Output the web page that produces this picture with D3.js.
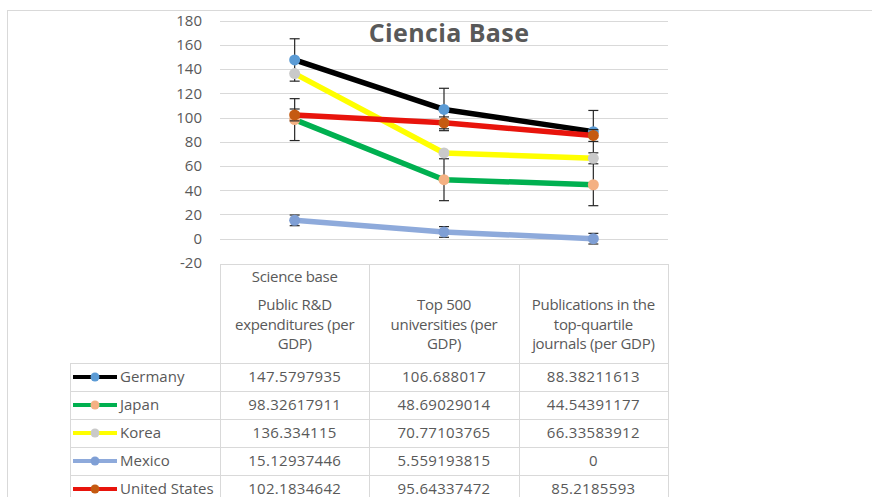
<!DOCTYPE html>
<html>
<head>
<meta charset="utf-8">
<script src="https://cdn.jsdelivr.net/npm/d3@7/dist/d3.min.js"></script>
<style>
  html, body { margin: 0; padding: 0; background: #ffffff; }
  svg { display: block; }
  text { font-family: "Open Sans", "Noto Sans", sans-serif; fill: #595959; }
</style>
</head>
<body>
<svg id="chart" width="872" height="497"></svg>
<script>
// Indicator columns (header lines per column)
const categories = ["Public R&D expenditures (per GDP)", "Top 500 universities (per GDP)", "Publications in the top-quartile journals (per GDP)"];
const headerLines = [
  ["Public R&D", "expenditures (per", "GDP)"],
  ["Top 500", "universities (per", "GDP)"],
  ["Publications in the", "top-quartile", "journals (per GDP)"]
];
const groupLabel = "Science base";

// Countries and their values
const countries = ["Germany", "Japan", "Korea", "Mexico", "United States"];
const germany = [147.5797935, 106.688017, 88.38211613];
const japan = [98.32617911, 48.69029014, 44.54391177];
const korea = [136.334115, 70.77103765, 66.33583912];
const mexico = [15.12937446, 5.559193815, 0];
const unitedStates = [102.1834642, 95.64337472, 85.2185593];
const seriesValues = [germany, japan, korea, mexico, unitedStates];
const tableText = [
  ["147.5797935", "106.688017", "88.38211613"],
  ["98.32617911", "48.69029014", "44.54391177"],
  ["136.334115", "70.77103765", "66.33583912"],
  ["15.12937446", "5.559193815", "0"],
  ["102.1834642", "95.64337472", "85.2185593"]
];
// Error bar half-widths per country (0 = none)
const errorAmounts = [17.5, 17.3, 0, 4.4, 4.9];

const yTicks = [-20, 0, 20, 40, 60, 80, 100, 120, 140, 160, 180];
const title = "Ciencia Base";

// Styling per country
const lineColors = ["#000000", "#00b050", "#ffff00", "#8eaadb", "#e8140c"];
const markerColors = ["#5b9bd5", "#f4b183", "#c9c9c9", "#7f9fd5", "#c55a11"];

const svg = d3.select("#chart");

// Outer frame
svg.append("rect")
  .attr("x", 7.5).attr("y", 10.5)
  .attr("width", 900).attr("height", 520)
  .attr("fill", "none").attr("stroke", "#d9d9d9").attr("stroke-width", 1);

const plotLeft = 220, plotRight = 668;
const x = d3.scalePoint().domain(categories).range([plotLeft, plotRight]).padding(0.5);
const y = d3.scaleLinear().domain([-20, 180]).range([262.9, 20.7]);

// Gridlines
svg.append("g").selectAll("line")
  .data(yTicks.filter(t => t > -20))
  .join("line")
  .attr("x1", plotLeft).attr("x2", plotRight)
  .attr("y1", d => Math.round(y(d)) + 0.5).attr("y2", d => Math.round(y(d)) + 0.5)
  .attr("stroke", "#d9d9d9").attr("stroke-width", 1);

// Y axis labels (plain hyphen for negatives)
const yAxis = d3.axisLeft(y).tickValues(yTicks).tickSize(0).tickPadding(0)
  .tickFormat(d => String(d));
const gy = svg.append("g").attr("transform", "translate(202,0)").call(yAxis);
gy.select(".domain").remove();
gy.selectAll("text")
  .attr("font-size", "15px")
  .attr("font-family", "'Open Sans', sans-serif")
  .attr("fill", "#595959");

// Title
svg.append("text")
  .attr("x", 449).attr("y", 42)
  .attr("text-anchor", "middle")
  .attr("font-size", "25px").attr("font-weight", "bold")
  .attr("letter-spacing", "0.4px")
  .text(title);

// Series
const line = d3.line().x((d, i) => x(categories[i])).y(d => y(d));
seriesValues.forEach((vals, s) => {
  const g = svg.append("g");
  g.append("path")
    .datum(vals)
    .attr("d", line)
    .attr("fill", "none")
    .attr("stroke", lineColors[s])
    .attr("stroke-width", 5.5)
    .attr("stroke-linejoin", "round");
  const err = errorAmounts[s];
  if (err > 0) {
    vals.forEach((v, i) => {
      const cx = x(categories[i]);
      const y1 = y(v + err), y2 = y(v - err);
      g.append("line").attr("x1", cx).attr("x2", cx).attr("y1", y1).attr("y2", y2)
        .attr("stroke", "#262626").attr("stroke-width", 1.2);
      [y1, y2].forEach(yy => {
        g.append("line").attr("x1", cx - 5).attr("x2", cx + 5).attr("y1", yy).attr("y2", yy)
          .attr("stroke", "#262626").attr("stroke-width", 1.2);
      });
    });
  }
  g.selectAll("circle")
    .data(vals)
    .join("circle")
    .attr("cx", (d, i) => x(categories[i]))
    .attr("cy", d => y(d))
    .attr("r", 5.5)
    .attr("fill", markerColors[s]);
});

// Data table
const tableTop = 264, headerBottom = 363, rowH = 28, legendLeft = 70;
const colEdges = [plotLeft, ...categories.map((c, i) => plotLeft + (i + 1) * (plotRight - plotLeft) / 3)];
const tg = svg.append("g").attr("stroke", "#d9d9d9").attr("stroke-width", 1);
const tableBottom = headerBottom + rowH * countries.length;
tg.append("line").attr("x1", plotLeft).attr("x2", plotRight).attr("y1", tableTop + 0.5).attr("y2", tableTop + 0.5);
for (let r = 0; r <= countries.length; r++) {
  const yy = headerBottom + r * rowH + 0.5;
  tg.append("line").attr("x1", legendLeft).attr("x2", plotRight).attr("y1", yy).attr("y2", yy);
}
colEdges.forEach(cx => {
  tg.append("line").attr("x1", Math.round(cx) + 0.5).attr("x2", Math.round(cx) + 0.5)
    .attr("y1", tableTop).attr("y2", tableBottom);
});
tg.append("line").attr("x1", legendLeft + 0.5).attr("x2", legendLeft + 0.5)
  .attr("y1", headerBottom).attr("y2", tableBottom);

// Header text
const txt = svg.append("g").attr("font-size", "15px").attr("text-anchor", "middle");
txt.append("text").attr("x", x(categories[0])).attr("y", 277).attr("dy", "0.35em")
  .attr("letter-spacing", "-0.3px").text(groupLabel);
headerLines.forEach((lines, c) => {
  lines.forEach((ln, k) => {
    txt.append("text").attr("x", x(categories[c])).attr("y", 305 + k * 19.6).attr("dy", "0.35em")
      .attr("letter-spacing", "-0.3px").text(ln);
  });
});

// Rows: legend key + values
countries.forEach((name, r) => {
  const cy = headerBottom + r * rowH + rowH / 2;
  svg.append("line").attr("x1", 73).attr("x2", 117).attr("y1", cy).attr("y2", cy)
    .attr("stroke", lineColors[r]).attr("stroke-width", 4);
  svg.append("circle").attr("cx", 95).attr("cy", cy).attr("r", 4.5).attr("fill", markerColors[r]);
  svg.append("text").attr("x", 120).attr("y", cy).attr("dy", "0.35em")
    .attr("font-size", "15px").text(name);
  tableText[r].forEach((t, c) => {
    txt.append("text").attr("x", x(categories[c])).attr("y", cy).attr("dy", "0.35em")
      .attr("letter-spacing", "0.3px").text(t);
  });
});
</script>
</body>
</html>
